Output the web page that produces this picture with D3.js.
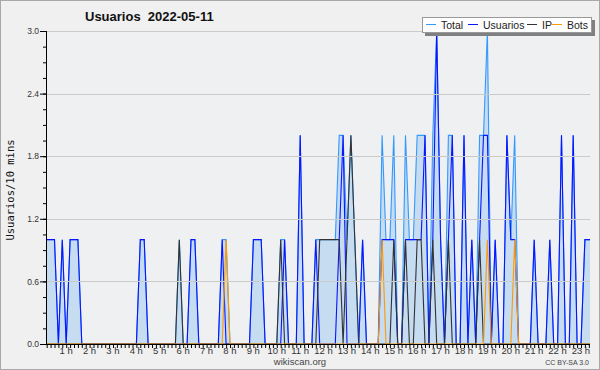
<!DOCTYPE html>
<html>
<head>
<meta charset="utf-8">
<script src="https://cdn.jsdelivr.net/npm/d3@7"></script>
<style>
body { margin: 0; background: #f0f0f0; }
svg { display: block; font-family: "Liberation Sans", Arial, sans-serif; }
</style>
</head>
<body>
<svg id="chart" width="600" height="370"></svg>
<script>
// one value per 10 minutes, 00:00 -> 23:50
var total = [
  1,1,1,0,1,0,1,1,1,0,0,0,
  0,0,0,0,0,0,0,0,0,0,0,0,
  1,1,0,0,0,0,0,0,0,0,1,0,
  0,1,1,0,0,0,0,0,0,1,1,0,
  0,0,0,0,0,1,1,1,0,0,0,0,
  1,1,0,0,0,2,0,0,0,1,1,1,
  1,1,1,2,2,1,2,1,0,1,0,0,
  0,0,2,1,1,2,0,0,2,1,1,2,
  2,2,0,2,3,1,0,2,2,0,0,2,
  0,1,0,2,2,3,0,1,0,0,2,1,
  2,0,0,0,0,1,0,0,0,1,0,0,
  2,0,0,2,0,0,1,1,1,1,1,1
];
var usuarios = [
  1,1,1,0,1,0,1,1,1,0,0,0,
  0,0,0,0,0,0,0,0,0,0,0,0,
  1,1,0,0,0,0,0,0,0,0,0,0,
  0,1,1,0,0,0,0,0,0,1,0,0,
  0,0,0,0,0,1,1,1,0,0,0,0,
  0,1,0,0,0,2,0,0,0,1,0,0,
  0,0,0,1,2,0,0,0,0,1,0,0,
  0,0,1,1,1,1,0,0,1,1,1,1,
  1,2,0,1,3,1,0,1,2,0,0,2,
  0,1,0,1,2,2,0,1,0,0,2,1,
  1,0,0,0,0,1,0,0,0,1,0,0,
  2,0,0,2,0,0,1,1,1,1,1,1
];
var ip = [
  0,0,0,0,0,0,0,0,0,0,0,0,
  0,0,0,0,0,0,0,0,0,0,0,0,
  0,0,0,0,0,0,0,0,0,0,1,0,
  0,0,0,0,0,0,0,0,0,0,0,0,
  0,0,0,0,0,0,0,0,0,0,0,0,
  1,0,0,0,0,0,0,0,0,0,1,1,
  1,1,1,1,0,1,2,1,0,0,0,0,
  0,0,0,0,0,1,0,0,1,0,0,1,
  1,0,0,1,0,0,0,1,0,0,0,0,
  0,0,0,1,0,0,0,0,0,0,0,0,
  0,0,0,0,0,0,0,0,0,0,0,0,
  0,0,0,0,0,0,0,0,0,0,0,0
];
var bots = [
  0,0,0,0,0,0,0,0,0,0,0,0,
  0,0,0,0,0,0,0,0,0,0,0,0,
  0,0,0,0,0,0,0,0,0,0,0,0,
  0,0,0,0,0,0,0,0,0,0,1,0,
  0,0,0,0,0,0,0,0,0,0,0,0,
  0,0,0,0,0,0,0,0,0,0,0,0,
  0,0,0,0,0,0,0,0,0,0,0,0,
  0,0,1,0,0,0,0,0,0,0,0,0,
  0,0,0,0,0,0,0,0,0,0,0,0,
  0,0,0,0,0,1,0,0,0,0,0,0,
  1,0,0,0,0,0,0,0,0,0,0,0,
  0,0,0,0,0,0,0,0,0,0,0,0
];
var seriesNames = ["Total", "Usuarios", "IP", "Bots"];
var hours = d3.range(1, 24);
var yTicks = [0, 0.6, 1.2, 1.8, 2.4, 3.0];

var svg = d3.select("#chart"),
    plotL = 46, plotR = 590, plotT = 31, plotB = 344;

var colors = d3.scaleOrdinal()
    .domain(seriesNames)
    .range(["#3399ff", "#0a14ff", "#333333", "#ff9900"]);

// 10 minute slots, the last ones run past the frame and get clipped
var x = d3.scaleLinear().domain([0, 143]).range([46.7, 46.7 + 3.9 * 143]);
var y = d3.scaleLinear().domain([0, 3]).range([plotB, plotT]);

svg.append("rect")
    .attr("x", 0.5).attr("y", 0.5)
    .attr("width", 599).attr("height", 369)
    .attr("fill", "#f0f0f0")
    .attr("stroke", "#a8a8a8");

svg.append("rect")
    .attr("x", plotL).attr("y", plotT)
    .attr("width", plotR - plotL).attr("height", plotB - plotT)
    .attr("fill", "#eff0f2");

svg.append("clipPath").attr("id", "plot")
  .append("rect")
    .attr("x", plotL).attr("y", 0)
    .attr("width", plotR - plotL).attr("height", plotB + 1);

var g = svg.append("g").attr("clip-path", "url(#plot)");

g.append("path")
    .datum(total)
    .attr("fill", "#c6dcf1")
    .attr("d", d3.area()
        .x(function(d, i) { return x(i); })
        .y0(y(0))
        .y1(function(d) { return y(d); }));

// grid
svg.append("g")
  .selectAll("line")
  .data(yTicks.slice(1))
  .enter().append("line")
    .attr("x1", plotL).attr("x2", plotR)
    .attr("y1", function(d) { return Math.round(y(d)) + 0.5; })
    .attr("y2", function(d) { return Math.round(y(d)) + 0.5; })
    .attr("stroke", "#cacaca");

var lines = [total, usuarios, ip, bots];
lines.forEach(function(s, k) {
  g.append("path")
      .datum(s)
      .attr("fill", "none")
      .attr("stroke", colors(seriesNames[k]))
      .attr("stroke-width", 1.1)
      .attr("d", d3.line()
          .x(function(d, i) { return x(i); })
          .y(function(d) { return y(d); }));
});

// y axis
var yMinor = svg.append("g")
    .attr("transform", "translate(" + plotL + ",0)")
    .call(d3.axisLeft(y).tickValues(d3.range(0, 21).map(function(i) { return i * 0.15; }))
        .tickSize(3).tickFormat(""));
yMinor.select(".domain").remove();

var yAxis = svg.append("g")
    .attr("transform", "translate(" + plotL + ",0)")
    .call(d3.axisLeft(y).tickValues(yTicks).tickSize(6).tickPadding(1)
        .tickFormat(d3.format(".1f")));
yAxis.select(".domain").remove();
yAxis.selectAll("text").attr("font-size", 8.5).attr("fill", "#333")
    .attr("font-family", "Liberation Sans, Arial, sans-serif");

svg.selectAll(".tick line").attr("stroke", "#000");

svg.append("line")
    .attr("x1", plotL + 0.5).attr("x2", plotL + 0.5)
    .attr("y1", plotT).attr("y2", plotB + 1)
    .attr("stroke", "#000");

// x axis
var xAxis = svg.append("g")
    .attr("transform", "translate(0," + plotB + ")")
    .call(d3.axisBottom(x).tickValues(d3.range(0, 140)).tickSize(4).tickFormat(""));
xAxis.select(".domain").remove();
xAxis.selectAll("line").attr("stroke", "#000");

svg.append("line")
    .attr("x1", plotL).attr("x2", plotR)
    .attr("y1", plotB + 0.5).attr("y2", plotB + 0.5)
    .attr("stroke", "#000");

svg.append("g")
  .selectAll("text")
  .data(hours)
  .enter().append("text")
    .attr("x", function(h) { return x(h * 6) - 4; })
    .attr("y", 354)
    .attr("text-anchor", "middle")
    .attr("font-size", 9.5)
    .attr("fill", "#333")
    .text(function(h) { return h + " h"; });

// titles
svg.append("text")
    .attr("x", 85).attr("y", 21)
    .attr("font-size", 13).attr("font-weight", "bold")
    .attr("fill", "#111")
    .attr("xml:space", "preserve")
    .text("Usuarios  2022-05-11");

svg.append("text")
    .attr("transform", "translate(14,190) rotate(-90)")
    .attr("text-anchor", "middle")
    .attr("font-family", "DejaVu Sans Mono, monospace")
    .attr("font-size", 10.5)
    .attr("fill", "#111")
    .text("Usuarios/10 mins");

svg.append("text")
    .attr("x", 300).attr("y", 365)
    .attr("text-anchor", "middle")
    .attr("font-size", 9.5)
    .attr("fill", "#444")
    .text("wikiscan.org");

svg.append("text")
    .attr("x", 589).attr("y", 365)
    .attr("text-anchor", "end")
    .attr("font-size", 7)
    .attr("fill", "#444")
    .text("CC BY-SA 3.0");

// legend
var legend = svg.append("g").attr("transform", "translate(422,17)");
legend.append("rect")
    .attr("x", 3).attr("y", 3).attr("width", 170).attr("height", 16)
    .attr("fill", "#808080");
legend.append("rect")
    .attr("x", 0.5).attr("y", 0.5).attr("width", 169).attr("height", 15)
    .attr("fill", "#fff").attr("stroke", "#999");

var legendX = [4, 46, 105, 130];
var item = legend.selectAll(".item")
    .data(seriesNames)
    .enter().append("g")
      .attr("transform", function(d, i) { return "translate(" + legendX[i] + ",0)"; });

item.append("line")
    .attr("x1", 0).attr("x2", 10)
    .attr("y1", 7.5).attr("y2", 7.5)
    .attr("stroke", colors);

item.append("text")
    .attr("x", 15).attr("y", 11.5)
    .attr("font-size", 10.5)
    .attr("fill", "#222")
    .text(function(d) { return d; });
</script>
</body>
</html>
